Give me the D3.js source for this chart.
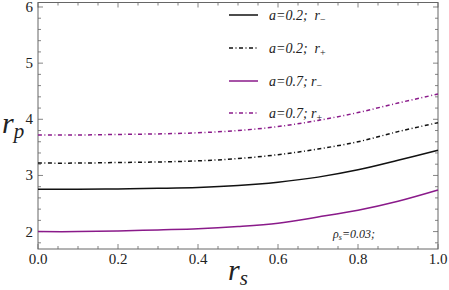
<!DOCTYPE html>
<html>
<head>
<meta charset="utf-8">
<script src="https://cdn.jsdelivr.net/npm/d3@7"></script>
<style>
  body { margin: 0; background: #fff; }
</style>
</head>
<body>
<svg id="chart" width="449" height="290"></svg>
<script>
// r_s values along the x axis
var rs = [0, 0.1, 0.2, 0.3, 0.4, 0.5, 0.6, 0.7, 0.8, 0.9, 1.0];

// r_p for each case
var a02Minus = [2.755, 2.756, 2.76, 2.77, 2.785, 2.82, 2.88, 2.97, 3.10, 3.27, 3.45];
var a02Plus  = [3.22, 3.22, 3.23, 3.24, 3.26, 3.30, 3.37, 3.47, 3.60, 3.78, 3.94];
var a07Minus = [2.00, 2.00, 2.01, 2.03, 2.05, 2.09, 2.15, 2.26, 2.38, 2.54, 2.74];
var a07Plus  = [3.72, 3.72, 3.73, 3.74, 3.76, 3.80, 3.87, 3.98, 4.12, 4.29, 4.45];

var xTicks = [0, 0.2, 0.4, 0.6, 0.8, 1.0];
var yTicks = [2, 3, 4, 5, 6];

var purple = "#8a1a8a";
var series = [
  {a: "0.2", sign: "−", vals: a02Minus, color: "#111", dash: null, sep: "\u00a0 "},
  {a: "0.2", sign: "+", vals: a02Plus, color: "#111", dash: "4,2.5,1,2.5", sep: "\u00a0 "},
  {a: "0.7", sign: "−", vals: a07Minus, color: purple, dash: null, sep: " "},
  {a: "0.7", sign: "+", vals: a07Plus, color: purple, dash: "4,2.5,1,2.5", sep: " "}
];

var fontName = "'Liberation Serif'";
var svg = d3.select("#chart");
var mLeft = 38, mRight = 438, mTop = 2.5, mBottom = 249;

var x = d3.scaleLinear().domain([0, 1]).range([mLeft, mRight]);
var y = d3.scaleLinear().domain([1.69, 6.08]).range([mBottom, mTop]);

var frameColor = "#666";

// ticks (inside, mirrored on top/right)
var xMinor = d3.range(0, 1.0001, 0.05);
var yMinor = d3.range(1.8, 6.0001, 0.2);

function isMajor(v, list) {
  return list.some(function(t) { return Math.abs(t - v) < 1e-6; });
}

var g = svg.append("g").attr("stroke", frameColor).attr("stroke-width", 0.8);
xMinor.forEach(function(v) {
  var len = isMajor(v, xTicks) ? 5 : 3;
  g.append("line").attr("x1", x(v)).attr("x2", x(v)).attr("y1", mBottom).attr("y2", mBottom - len);
  g.append("line").attr("x1", x(v)).attr("x2", x(v)).attr("y1", mTop).attr("y2", mTop + len);
});
yMinor.forEach(function(v) {
  var len = isMajor(v, yTicks) ? 5 : 3;
  g.append("line").attr("x1", mLeft).attr("x2", mLeft + len).attr("y1", y(v)).attr("y2", y(v));
  g.append("line").attr("x1", mRight).attr("x2", mRight - len).attr("y1", y(v)).attr("y2", y(v));
});

svg.append("rect")
  .attr("x", mLeft).attr("y", mTop)
  .attr("width", mRight - mLeft).attr("height", mBottom - mTop)
  .attr("fill", "none").attr("stroke", frameColor).attr("stroke-width", 1);

// tick labels
svg.selectAll(".xl").data(xTicks).enter().append("text")
  .attr("x", function(d) { return x(d); })
  .attr("y", 264)
  .attr("text-anchor", "middle")
  .attr("font-size", 15)
  .attr("fill", "#222")
  .style("font-family", fontName)
  .text(function(d) { return d.toFixed(1); });

svg.selectAll(".yl").data(yTicks).enter().append("text")
  .attr("x", 33)
  .attr("y", function(d) { return y(d) + 5; })
  .attr("text-anchor", "end")
  .attr("font-size", 15)
  .attr("fill", "#222")
  .style("font-family", fontName)
  .text(function(d) { return d; });

// curves
var line = d3.line()
  .x(function(d, i) { return x(rs[i]); })
  .y(function(d) { return y(d); })
  .curve(d3.curveCatmullRom);

svg.selectAll(".curve").data(series).enter().append("path")
  .attr("d", function(d) { return line(d.vals); })
  .attr("fill", "none")
  .attr("stroke", function(d) { return d.color; })
  .attr("stroke-width", 1.5)
  .attr("stroke-dasharray", function(d) { return d.dash; });

// legend
var legY = [15, 48, 81, 113];
series.forEach(function(s, i) {
  svg.append("line")
    .attr("x1", 229).attr("x2", 258)
    .attr("y1", legY[i]).attr("y2", legY[i])
    .attr("stroke", s.color).attr("stroke-width", 1.5)
    .attr("stroke-dasharray", s.dash);
  var t = svg.append("text")
    .attr("x", 269).attr("y", legY[i] + 4.5)
    .attr("font-size", 14).attr("font-style", "italic").attr("fill", "#222")
    .style("font-family", fontName);
  t.append("tspan").text("a=" + s.a + ";" + s.sep + "r");
  t.append("tspan").attr("font-size", 10).attr("dy", 3).attr("font-style", "normal").text(s.sign);
});

// annotation
var ann = svg.append("text")
  .attr("x", 333).attr("y", 238)
  .attr("font-size", 12).attr("font-style", "italic").attr("fill", "#222")
  .style("font-family", fontName);
ann.append("tspan").text("ρ");
ann.append("tspan").attr("font-size", 8).attr("dy", 2).text("s");
ann.append("tspan").attr("dy", -2).text("=0.03;");

// axis titles
var yt = svg.append("text")
  .attr("x", 2).attr("y", 133)
  .attr("font-size", 30).attr("font-style", "italic").attr("fill", "#222")
  .style("font-family", fontName);
yt.append("tspan").text("r");
yt.append("tspan").attr("font-size", 21).attr("dy", 5).text("p");

var xt = svg.append("text")
  .attr("x", 228).attr("y", 280)
  .attr("font-size", 30).attr("font-style", "italic").attr("fill", "#222")
  .style("font-family", fontName);
xt.append("tspan").text("r");
xt.append("tspan").attr("font-size", 21).attr("dy", 5).text("s");
</script>
</body>
</html>
